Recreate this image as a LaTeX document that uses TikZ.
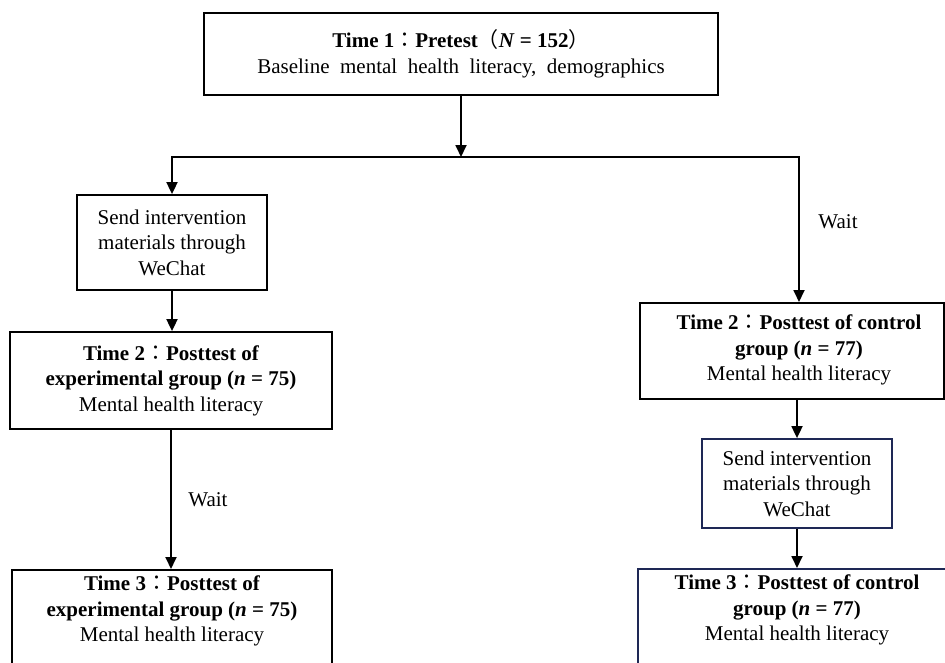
\documentclass[tikz,border=0pt]{standalone}
\usepackage{fontspec}
\setmainfont{Liberation Serif}
\newfontfamily\cjk{Noto Sans CJK TC}
\usetikzlibrary{arrows.meta}
\definecolor{navy}{RGB}{30,40,85}
\newcommand{\fc}{{\cjk\mdseries ：}}
\newcommand{\flp}{{\cjk\mdseries （}}
\newcommand{\frp}{{\cjk\mdseries ）}}
\begin{document}
\begin{tikzpicture}[x=1pt,y=-1pt,
  box/.style={draw, line width=1.8pt, align=center, inner sep=0pt, font=\fontsize{21}{25.5}\selectfont},
  txt/.style={align=center, inner sep=0pt, font=\fontsize{21}{25.5}\selectfont},
  arr/.style={line width=1.8pt, -{Triangle[width=11pt,length=12pt]}},
  ln/.style={line width=1.8pt}]
\useasboundingbox (0,0) rectangle (945,662);
\clip (0,0) rectangle (945,662);
% nodes
\node[box, minimum width=514, minimum height=82] (pre) at (461,54)
  {\textbf{Time 1\fc Pretest\flp\textit{N} = 152\frp}\\Baseline\ \ mental\ \ health\ \ literacy,\ \ demographics};
\node[box, minimum width=190, minimum height=95] (sendL) at (172,242.5)
  {Send intervention\\materials through\\WeChat};
\node[box, minimum width=322, minimum height=97] (t2e) at (171,380.5)
  {\textbf{Time 2\fc Posttest of}\\\textbf{experimental group (\textit{n} = 75)}\\Mental health literacy};
\node[box, minimum width=320, minimum height=120, anchor=north] (t3e) at (172,569) {};
\node[txt] (t3et) at (172,611)
  {\textbf{Time 3\fc Posttest of}\\\textbf{experimental group (\textit{n} = 75)}\\Mental health literacy};
\node[box, minimum width=304, minimum height=96, anchor=north west] (t2c) at (639,302) {};
\node[txt] (t2ct) at (799,350)
  {\textbf{Time 2\fc Posttest of control}\\\textbf{group (\textit{n} = 77)}\\Mental health literacy};
\node[box, draw=navy, minimum width=190, minimum height=89] (sendR) at (797,483.5)
  {Send intervention\\materials through\\WeChat};
\node[box, draw=navy, minimum width=330, minimum height=120, anchor=north west] (t3c) at (637,568) {};
\node[txt] (t3ct) at (797,610)
  {\textbf{Time 3\fc Posttest of control}\\\textbf{group (\textit{n} = 77)}\\Mental health literacy};
\node[txt] (waitR) at (838,222) {Wait};
\node[txt] (waitL) at (208,500) {Wait};
% connectors
\coordinate (sl) at (172,157);
\coordinate (sr) at (799,157);
\draw[arr] (pre.south) -- (pre.south |- sl);
\draw[arr] (sr) -- (sl) -- (sendL.north);
\draw[arr] (sl) -- (sr) -- (sr |- t2c.north);
\draw[arr] (sendL.south) -- (sendL.south |- t2e.north);
\draw[arr] (t2e.south) -- (t2e.south |- t3e.north);
\draw[arr] (sendR.north |- t2c.south) -- (sendR.north);
\draw[arr] (sendR.south) -- (sendR.south |- t3c.north);
\end{tikzpicture}
\end{document}
